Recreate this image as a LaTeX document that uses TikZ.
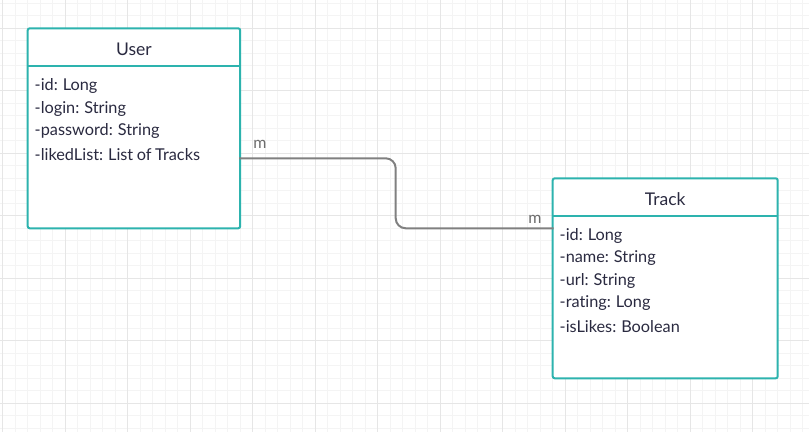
\documentclass[tikz,border=0pt]{standalone}
\usepackage{fontspec}
\setmainfont{Lato}[Ligatures=NoCommon, WordSpace=0.85]
\usetikzlibrary{positioning}
\usetikzlibrary{calc}

\definecolor{tealline}{HTML}{2DB3AE}
\definecolor{ink}{HTML}{2A2A40}
\definecolor{linkgray}{HTML}{808080}
\definecolor{gridmajor}{HTML}{E6E6E6}
\definecolor{gridminor}{HTML}{F4F4F4}

\tikzset{
  classbox/.style={draw=tealline, line width=2pt, rounded corners=2pt, fill=white},
  classname/.style={anchor=base, text=ink, font=\fontsize{17.5}{20}\selectfont, inner sep=0pt},
  attr/.style={anchor=base west, text=ink, font=\fontsize{16.3}{19}\selectfont, inner sep=0pt},
  assoc/.style={draw=linkgray, line width=2pt, rounded corners=10pt},
  mult/.style={anchor=base, text=linkgray!85!black, font=\fontsize{16}{18}\selectfont, inner sep=0pt}
}

\begin{document}
\begin{tikzpicture}[x=1pt, y=-1pt]
\useasboundingbox (0,0) rectangle (809,432);
\fill[white] (0,0) rectangle (809,432);

% grid
\foreach \i in {0,...,64} {
  \draw[gridminor, line width=0.9pt] (2.7+12.5*\i,0) -- (2.7+12.5*\i,432);
}
\foreach \j in {0,...,34} {
  \draw[gridminor, line width=0.9pt] (0,3.3+12.5*\j) -- (809,3.3+12.5*\j);
}
\foreach \i in {0,...,12} {
  \draw[gridmajor, line width=1.2pt] (2.7+62.5*\i,0) -- (2.7+62.5*\i,432);
}
\foreach \j in {0,...,6} {
  \draw[gridmajor, line width=1.2pt] (0,28.3+62.5*\j) -- (809,28.3+62.5*\j);
}

% User
\draw[classbox] (27.7,28.3) rectangle (240.2,228.3);
\draw[tealline, line width=2pt] (27.7,65.8) -- (240.2,65.8);
\node[classname] (user) at (134,55) {User};
\node[attr] (uid) at (34.5,90.7) {-id: Long};
\node[attr] (ulogin) at (34.5,113.3) {-login: String};
\node[attr] (upass) at (34.5,135.6) {-password: String};
\node[attr] (uliked) at (34.5,160) {-likedList: List of Tracks};

% Track
\draw[classbox] (552.7,178.3) rectangle (777.7,378.3);
\draw[tealline, line width=2pt] (552.7,215.8) -- (777.7,215.8);
\node[classname] (track) at (665.2,205) {Track};
\node[attr] (tid) at (559.5,240) {-id: Long};
\node[attr] (tname) at (559.5,262.7) {-name: String};
\node[attr] (turl) at (559.5,285) {-url: String};
\node[attr] (trating) at (559.5,307.4) {-rating: Long};
\node[attr] (tlikes) at (559.5,332.3) {-isLikes: Boolean};

% association
\coordinate (ufrom) at (239.2,158.3);
\coordinate (tto) at (553.7,228.3);
\draw[assoc] (ufrom) -- (395.7,158.3) -- (395.7,228.3) -- (tto);
\node[mult] (m1) at (260,148.3) {m};
\node[mult] (m2) at (535,223.3) {m};

\end{tikzpicture}
\end{document}
